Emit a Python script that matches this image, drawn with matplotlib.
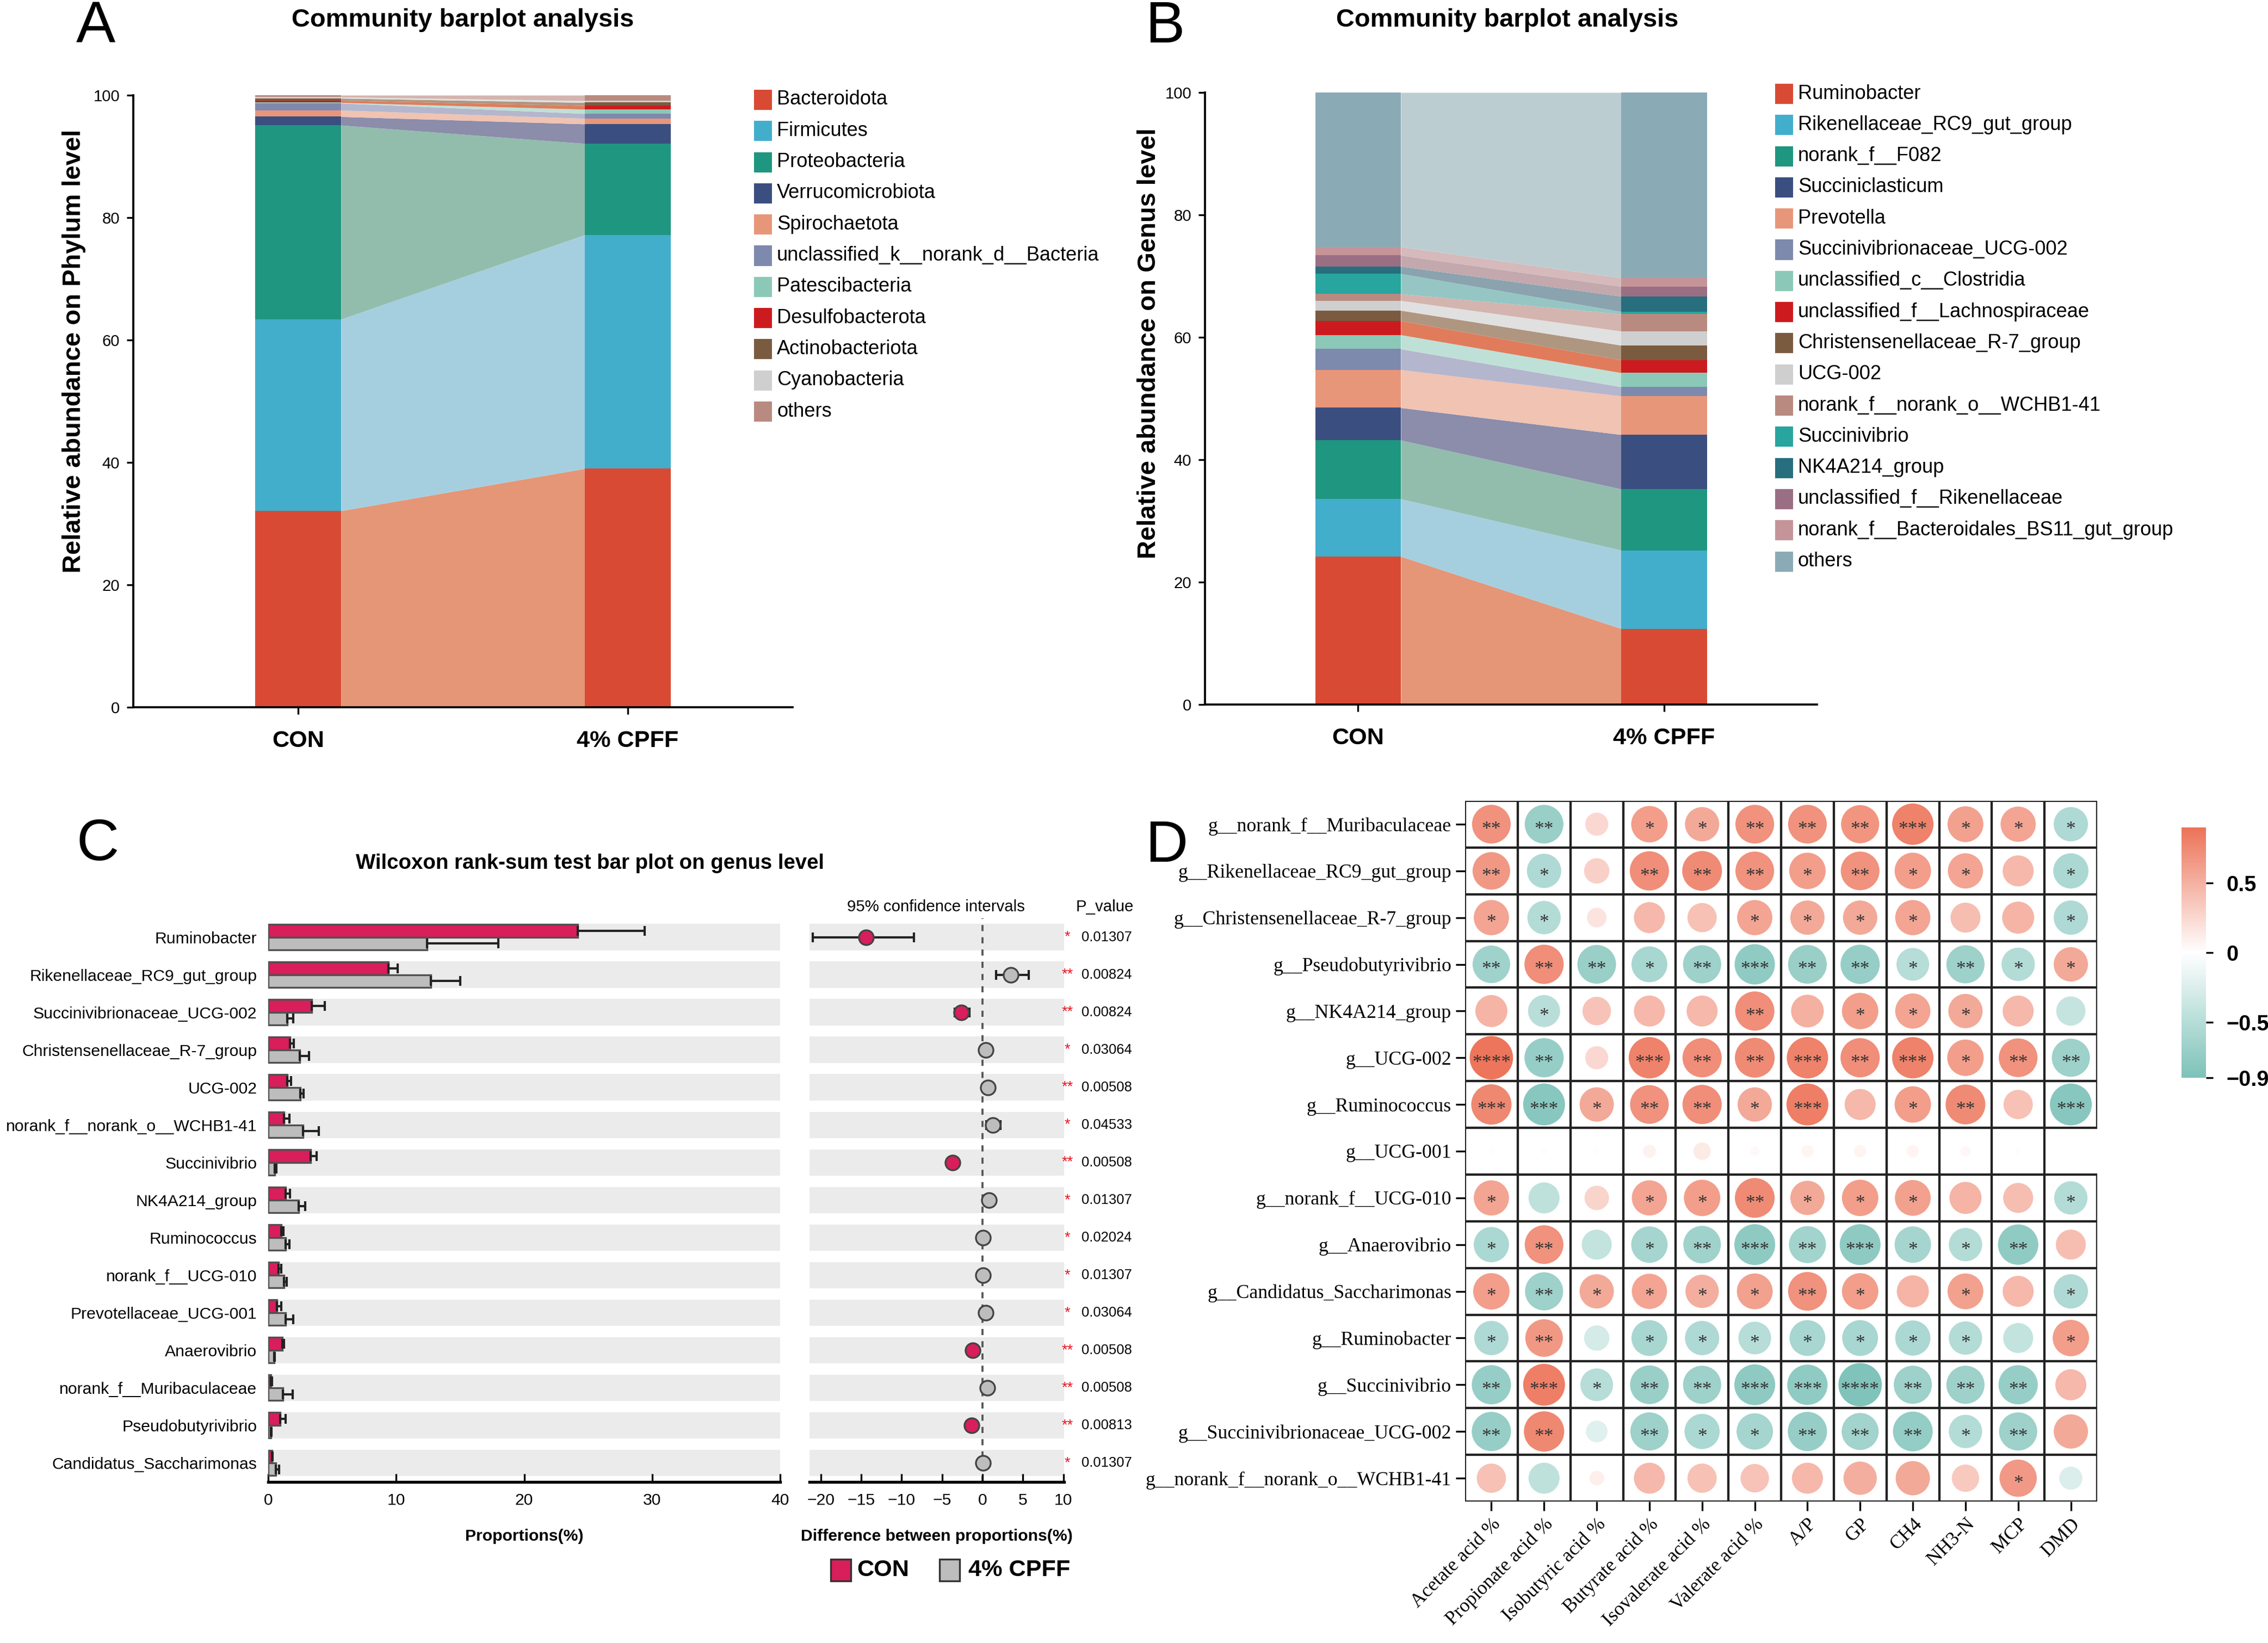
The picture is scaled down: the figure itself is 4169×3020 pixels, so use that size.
import numpy as np
import matplotlib
matplotlib.use("Agg")
import matplotlib.pyplot as plt
from matplotlib import font_manager as fm
from matplotlib.patches import Rectangle
from matplotlib.colors import LinearSegmentedColormap, Normalize
from matplotlib.cm import ScalarMappable

# ---------------- data ----------------
phylum_names = ["Bacteroidota", "Firmicutes", "Proteobacteria", "Verrucomicrobiota", "Spirochaetota",
                "unclassified_k__norank_d__Bacteria", "Patescibacteria", "Desulfobacterota",
                "Actinobacteriota", "Cyanobacteria", "others"]
phylum_con = [32.1, 31.3, 31.7, 1.4, 1.05, 1.15, 0.1, 0.35, 0.35, 0.2, 0.3]
phylum_cpff = [39.0, 38.2, 14.9, 3.2, 0.9, 0.8, 0.7, 0.6, 0.5, 0.3, 0.9]

genus_names = ["Ruminobacter", "Rikenellaceae_RC9_gut_group", "norank_f__F082", "Succiniclasticum",
               "Prevotella", "Succinivibrionaceae_UCG-002", "unclassified_c__Clostridia",
               "unclassified_f__Lachnospiraceae", "Christensenellaceae_R-7_group", "UCG-002",
               "norank_f__norank_o__WCHB1-41", "Succinivibrio", "NK4A214_group",
               "unclassified_f__Rikenellaceae", "norank_f__Bacteroidales_BS11_gut_group", "others"]
genus_con = [24.2, 9.4, 9.6, 5.3, 6.2, 3.4, 2.3, 2.3, 1.7, 1.6, 1.1, 3.3, 1.2, 1.8, 1.4, 25.2]
genus_cpff = [12.4, 12.8, 10.0, 8.9, 6.3, 1.5, 2.3, 2.1, 2.4, 2.3, 2.8, 0.4, 2.5, 1.6, 1.4, 30.3]
groups = ["CON", "4% CPFF"]

# bar colours and the colours of the connecting bands (shared palette order)
bar_colors = ["#D84A33", "#42AECB", "#1F9680", "#3A4F80", "#E8967A", "#7E89AE", "#8BC8B8",
              "#CC1B1E", "#7B5B40", "#CFCFCF", "#B98A80", "#27A59E", "#276E7E", "#9A6E83",
              "#C59498", "#8AABB5"]
band_colors = ["#E49677", "#A5CFDF", "#92BDAD", "#8C8CAB", "#F0C3B2", "#B4B6CD", "#BFE0D7",
               "#E07C5B", "#AF9680", "#E0E0E0", "#D4B4AE", "#95C6C4", "#8AA3AE", "#C3A8AE",
               "#D6B9BB", "#BCCDD1"]

c_genera = ["Ruminobacter", "Rikenellaceae_RC9_gut_group", "Succinivibrionaceae_UCG-002",
            "Christensenellaceae_R-7_group", "UCG-002", "norank_f__norank_o__WCHB1-41", "Succinivibrio",
            "NK4A214_group", "Ruminococcus", "norank_f__UCG-010", "Prevotellaceae_UCG-001",
            "Anaerovibrio", "norank_f__Muribaculaceae", "Pseudobutyrivibrio", "Candidatus_Saccharimonas"]
c_con = [24.2, 9.4, 3.4, 1.7, 1.5, 1.25, 3.3, 1.35, 1.0, 0.8, 0.7, 1.1, 0.2, 0.95, 0.3]
c_con_sd = [5.2, 0.7, 1.0, 0.3, 0.3, 0.4, 0.5, 0.35, 0.2, 0.2, 0.3, 0.15, 0.1, 0.4, 0.05]
c_cpff = [12.4, 12.7, 1.5, 2.45, 2.5, 2.7, 0.5, 2.4, 1.35, 1.25, 1.35, 0.45, 1.15, 0.2, 0.6]
c_cpff_sd = [5.6, 2.3, 0.45, 0.75, 0.25, 1.25, 0.15, 0.5, 0.3, 0.2, 0.6, 0.05, 0.75, 0.05, 0.25]
c_diff = [-14.4, 3.5, -2.6, 0.4, 0.7, 1.3, -3.7, 0.8, 0.05, 0.05, 0.4, -1.2, 0.6, -1.35, 0.08]
c_ci_low = [-21.0, 1.7, -3.4, 0.1, 0.4, 0.45, -4.0, 0.5, -0.15, -0.15, 0.1, -1.4, 0.3, -1.6, -0.1]
c_ci_high = [-8.5, 5.7, -1.6, 0.7, 1.0, 2.2, -3.4, 1.1, 0.25, 0.25, 0.7, -1.0, 0.9, -1.1, 0.25]
c_pvalue = ["0.01307", "0.00824", "0.00824", "0.03064", "0.00508", "0.04533", "0.00508", "0.01307",
            "0.02024", "0.01307", "0.03064", "0.00508", "0.00508", "0.00813", "0.01307"]

corr_rows = ["g__norank_f__Muribaculaceae", "g__Rikenellaceae_RC9_gut_group",
             "g__Christensenellaceae_R-7_group", "g__Pseudobutyrivibrio", "g__NK4A214_group",
             "g__UCG-002", "g__Ruminococcus", "g__UCG-001", "g__norank_f__UCG-010", "g__Anaerovibrio",
             "g__Candidatus_Saccharimonas", "g__Ruminobacter", "g__Succinivibrio",
             "g__Succinivibrionaceae_UCG-002", "g__norank_f__norank_o__WCHB1-41"]
corr_cols = ["Acetate acid %", "Propionate acid %", "Isobutyric acid %", "Butyrate acid %",
             "Isovalerate acid %", "Valerate acid %", "A/P", "GP", "CH4", "NH3-N", "MCP", "DMD"]
corr_r = [
    [0.70, -0.70, 0.25, 0.62, 0.55, 0.70, 0.70, 0.68, 0.80, 0.60, 0.58, -0.55],
    [0.66, -0.55, 0.30, 0.72, 0.74, 0.70, 0.62, 0.70, 0.62, 0.58, 0.45, -0.58],
    [0.58, -0.52, 0.18, 0.45, 0.40, 0.58, 0.55, 0.55, 0.58, 0.42, 0.48, -0.55],
    [-0.66, 0.72, -0.70, -0.60, -0.68, -0.76, -0.70, -0.72, -0.50, -0.68, -0.52, 0.55],
    [0.48, -0.48, 0.38, 0.45, 0.45, 0.72, 0.50, 0.62, 0.58, 0.55, 0.45, -0.40],
    [0.88, -0.72, 0.25, 0.80, 0.72, 0.74, 0.80, 0.72, 0.80, 0.62, 0.70, -0.68],
    [0.76, -0.82, 0.55, 0.70, 0.72, 0.55, 0.82, 0.45, 0.62, 0.74, 0.40, -0.82],
    [0.02, 0.02, 0.02, 0.08, 0.14, 0.04, 0.07, 0.07, 0.07, 0.05, 0.02, np.nan],
    [0.58, -0.45, 0.28, 0.58, 0.62, 0.74, 0.55, 0.62, 0.60, 0.48, 0.42, -0.52],
    [-0.58, 0.70, -0.42, -0.62, -0.66, -0.78, -0.64, -0.78, -0.62, -0.52, -0.76, 0.42],
    [0.62, -0.68, 0.55, 0.58, 0.52, 0.60, 0.70, 0.62, 0.48, 0.60, 0.45, -0.55],
    [-0.55, 0.66, -0.30, -0.60, -0.55, -0.50, -0.60, -0.60, -0.58, -0.52, -0.42, 0.62],
    [-0.72, 0.82, -0.50, -0.70, -0.68, -0.78, -0.76, -0.88, -0.68, -0.68, -0.72, 0.45],
    [-0.72, 0.76, -0.22, -0.68, -0.58, -0.62, -0.72, -0.64, -0.74, -0.52, -0.68, 0.55],
    [0.40, -0.45, 0.10, 0.45, 0.40, 0.38, 0.45, 0.52, 0.55, 0.35, 0.65, -0.25],
]
corr_stars = [
    [2, 2, 0, 1, 1, 2, 2, 2, 3, 1, 1, 1],
    [2, 1, 0, 2, 2, 2, 1, 2, 1, 1, 0, 1],
    [1, 1, 0, 0, 0, 1, 1, 1, 1, 0, 0, 1],
    [2, 2, 2, 1, 2, 3, 2, 2, 1, 2, 1, 1],
    [0, 1, 0, 0, 0, 2, 0, 1, 1, 1, 0, 0],
    [4, 2, 0, 3, 2, 2, 3, 2, 3, 1, 2, 2],
    [3, 3, 1, 2, 2, 1, 3, 0, 1, 2, 0, 3],
    [0, 0, 0, 0, 0, 0, 0, 0, 0, 0, 0, 0],
    [1, 0, 0, 1, 1, 2, 1, 1, 1, 0, 0, 1],
    [1, 2, 0, 1, 2, 3, 2, 3, 1, 1, 2, 0],
    [1, 2, 1, 1, 1, 1, 2, 1, 0, 1, 0, 1],
    [1, 2, 0, 1, 1, 1, 1, 1, 1, 1, 0, 1],
    [2, 3, 1, 2, 2, 3, 3, 4, 2, 2, 2, 0],
    [2, 2, 0, 2, 1, 1, 2, 2, 2, 1, 2, 0],
    [0, 0, 0, 0, 0, 0, 0, 0, 0, 0, 1, 0],
]
cbar_ticks = [0.5, 0, -0.5, -0.9]

# ---------------- setup ----------------
W, H, DPI = 4169, 3020, 300
avail = {f.name for f in fm.fontManager.ttflist}
NARROW = "Liberation Sans Narrow" in avail
SANS = "Liberation Sans" if "Liberation Sans" in avail else "DejaVu Sans"
SANS_N = "Liberation Sans Narrow" if NARROW else SANS
K = 1.0 if NARROW else 0.83
SERIF = "Liberation Serif" if "Liberation Serif" in avail else "DejaVu Serif"

plt.rcParams["font.family"] = [SANS, "DejaVu Sans"]
plt.rcParams["axes.unicode_minus"] = True

fig = plt.figure(figsize=(W / DPI, H / DPI), dpi=DPI)


def ax_px(l, t, r, b):
    return fig.add_axes([l / W, 1 - b / H, (r - l) / W, (b - t) / H])


def ftext(x, y, s, **kw):
    return fig.text(x / W, 1 - y / H, s, **kw)


def frect(x, y, w, h, color):
    fig.add_artist(Rectangle((x / W, 1 - (y + h) / H), w / W, h / H, transform=fig.transFigure,
                             facecolor=color, edgecolor="none"))


# ---------------- panels A and B ----------------
def community(ax, names, con, cpff, bw, ylab, lab_xy, leg_x, leg_y0, leg_dy):
    cc = np.concatenate([[0], np.cumsum(con)])
    cp = np.concatenate([[0], np.cumsum(cpff)])
    cc = cc / cc[-1] * 100
    cp = cp / cp[-1] * 100
    for i in range(len(names)):
        ax.bar(0, cc[i + 1] - cc[i], bottom=cc[i], width=bw, color=bar_colors[i], lw=0, zorder=2)
        ax.bar(1, cp[i + 1] - cp[i], bottom=cp[i], width=bw, color=bar_colors[i], lw=0, zorder=2)
        ax.fill_between([bw / 2, 1 - bw / 2], [cc[i], cp[i]], [cc[i + 1], cp[i + 1]],
                        color=band_colors[i], lw=0, zorder=1)
    ax.set_xlim(-0.5, 1.5)
    ax.set_ylim(0, 100)
    for s in ["top", "right"]:
        ax.spines[s].set_visible(False)
    for s in ["left", "bottom"]:
        ax.spines[s].set_linewidth(0.9)
    ax.set_yticks([0, 20, 40, 60, 80, 100])
    ax.set_xticks([0, 1])
    ax.set_xticklabels(groups, fontsize=12.5 * K, fontweight="bold", family=SANS_N)
    ax.tick_params(axis="y", length=3, width=0.8, pad=3, labelsize=8.5 * K)
    for t in ax.get_yticklabels():
        t.set_family(SANS_N)
    ax.tick_params(axis="x", length=3, width=0.8, pad=7)
    ax.set_ylabel(ylab, fontsize=11.3, fontweight="bold", family=SANS)
    ax.yaxis.set_label_coords(*lab_xy)
    for i, n in enumerate(names):
        yc = leg_y0 + leg_dy * i
        frect(leg_x, yc - 18, 33, 37, bar_colors[i])
        ftext(leg_x + 42, yc, n, fontsize=10.5 * K, family=SANS_N, va="center", ha="left")


axA = ax_px(245, 175, 1457, 1300)
community(axA, phylum_names, phylum_con, phylum_cpff, 0.26,
          "Relative abundance on Phylum level", (-0.072, 0.582), 1386, 183, 57.3)
ftext(851, 37, "Community barplot analysis", fontsize=13.6 * K, fontweight="bold", family=SANS_N,
      ha="center", va="center")
ftext(140, 50, "A", fontsize=26, family=SANS, ha="left", va="center")

axB = ax_px(2215, 170, 3340, 1295)
community(axB, genus_names, genus_con, genus_cpff, 0.28,
          "Relative abundance on Genus level", (-0.072, 0.59), 3263, 172, 57.3)
ftext(2771, 37, "Community barplot analysis", fontsize=13.6 * K, fontweight="bold", family=SANS_N,
      ha="center", va="center")
ftext(2105, 50, "B", fontsize=26, family=SANS, ha="left", va="center")

# ---------------- panel C ----------------
CON_C = "#D81E5B"
GRAY_C = "#BDBDBD"
BAND = "#EBEBEB"
n = len(c_genera)
yy = np.arange(n)
top_px, bot_px = 1688, 2723.5

axC = ax_px(493, top_px, 1434, bot_px)
axC.set_xlim(0, 40)
axC.set_ylim(n - 0.5, -0.5)
for i in range(n):
    axC.add_patch(Rectangle((0, i - 0.35), 40, 0.7, facecolor=BAND, edgecolor="none", zorder=0))
axC.barh(yy - 0.17, c_con, height=0.34, color=CON_C, edgecolor="#505050", lw=0.8, zorder=2)
axC.barh(yy + 0.17, c_cpff, height=0.34, color=GRAY_C, edgecolor="#505050", lw=0.8, zorder=2)
axC.errorbar(c_con, yy - 0.17, xerr=[np.zeros(n), c_con_sd], fmt="none", ecolor="#222222",
             elinewidth=1.0, capsize=2.2, capthick=1.0, zorder=3)
axC.errorbar(c_cpff, yy + 0.17, xerr=[np.zeros(n), c_cpff_sd], fmt="none", ecolor="#222222",
             elinewidth=1.0, capsize=2.2, capthick=1.0, zorder=3)
for s in ["top", "right", "left"]:
    axC.spines[s].set_visible(False)
axC.spines["bottom"].set_linewidth(1.3)
axC.set_yticks(yy)
axC.set_yticklabels(c_genera, fontsize=8.7 * K, family=SANS_N)
axC.tick_params(axis="y", length=0, pad=5)
axC.set_xticks([0, 10, 20, 30, 40])
axC.tick_params(axis="x", direction="in", length=3.5, width=0.8, pad=5, labelsize=8.7 * K)
for t in axC.get_xticklabels():
    t.set_family(SANS_N)
axC.set_xlabel("Proportions(%)", fontsize=8.7 * K, fontweight="bold", family=SANS_N, labelpad=9)

axCd = ax_px(1488, top_px, 1956, bot_px)
axCd.set_xlim(-21.4, 10.1)
axCd.set_ylim(n - 0.5, -0.5)
for i in range(n):
    axCd.add_patch(Rectangle((-21.4, i - 0.35), 31.5, 0.7, facecolor=BAND, edgecolor="none", zorder=0))
axCd.axvline(0, color="#555555", lw=0.9, ls=(0, (3, 3)), zorder=1)
c_diff_a = np.array(c_diff)
axCd.errorbar(c_diff_a, yy, xerr=[c_diff_a - np.array(c_ci_low), np.array(c_ci_high) - c_diff_a],
              fmt="none", ecolor="#222222", elinewidth=1.0, capsize=2.2, capthick=1.0, zorder=2)
for i in range(n):
    col = CON_C if c_diff[i] < 0 else GRAY_C
    axCd.plot(c_diff[i], yy[i], "o", ms=6.5, mfc=col, mec="#444444", mew=0.8, zorder=3)
for s in ["top", "right", "left"]:
    axCd.spines[s].set_visible(False)
axCd.spines["bottom"].set_linewidth(1.3)
axCd.set_yticks([])
axCd.set_xticks([-20, -15, -10, -5, 0, 5, 10])
axCd.tick_params(axis="x", direction="in", length=3.5, width=0.8, pad=5, labelsize=8.7 * K)
for t in axCd.get_xticklabels():
    t.set_family(SANS_N)
axCd.set_xlabel("Difference between proportions(%)", fontsize=8.7 * K, fontweight="bold",
                family=SANS_N, labelpad=9)

row_px = (bot_px - top_px) / n
for i in range(n):
    yc = top_px + row_px * (i + 0.5)
    p = float(c_pvalue[i])
    star = "**" if p < 0.01 else ("*" if p < 0.05 else "")
    ftext(1962, yc, star, color="#E8141E", fontsize=6.5, ha="center", va="center", family=SANS)
    ftext(1988, yc, c_pvalue[i], fontsize=7.4 * K, family=SANS_N, ha="left", va="center")
ftext(2031, 1667, "P_value", fontsize=8.5 * K, family=SANS_N, ha="center", va="center")
ftext(1720, 1667, "95% confidence intervals", fontsize=8.5 * K, family=SANS_N, ha="center", va="center")
ftext(1085, 1587, "Wilcoxon rank-sum test bar plot on genus level", fontsize=11.1 * K,
      fontweight="bold", family=SANS_N, ha="center", va="center")
ftext(140, 1553, "C", fontsize=26, family=SANS, ha="left", va="center")

# legend C
for x0, col, lab in [(1527, CON_C, "CON"), (1727, GRAY_C, "4% CPFF")]:
    frect(x0, 2866, 37, 40, col)
    fig.add_artist(Rectangle((x0 / W, 1 - 2906 / H), 37 / W, 40 / H, transform=fig.transFigure,
                             facecolor="none", edgecolor="#333333", lw=0.8))
    ftext(x0 + (48 if lab == "CON" else 53), 2886, lab, fontsize=12.5 * K, fontweight="bold",
          family=SANS_N, ha="left", va="center")

# ---------------- panel D ----------------
cmap = LinearSegmentedColormap.from_list("cor", ["#7DC2B9", "#FFFFFF", "#EC7358"])
norm = Normalize(vmin=-0.9, vmax=0.9)
R = np.array(corr_r, dtype=float)
nr, nc = R.shape
axD = ax_px(2693, 1472, 3855, 2760)
axD.set_xlim(0, nc)
axD.set_ylim(nr, 0)
xs, ys, ss, cs = [], [], [], []
for i in range(nr):
    for j in range(nc):
        r = R[i, j]
        if np.isnan(r):
            continue
        axD.add_patch(Rectangle((j, i), 1, 1, fill=False, edgecolor="#222222", lw=1.0, zorder=1))
        xs.append(j + 0.5)
        ys.append(i + 0.5)
        d_pt = 85 * np.sqrt(abs(r)) * 72 / DPI
        ss.append(d_pt ** 2)
        cs.append(r)
        k = corr_stars[i][j]
        if k:
            axD.text(j + 0.5, i + 0.62, "*" * k, ha="center", va="center", fontsize=8.5,
                     family=SERIF, color="#333333", zorder=4)
axD.scatter(xs, ys, s=ss, c=cs, cmap=cmap, norm=norm, edgecolors="none", zorder=2)
for s in axD.spines.values():
    s.set_visible(False)
axD.set_yticks(np.arange(nr) + 0.5)
axD.set_yticklabels(corr_rows, fontsize=8.6, family=SERIF)
axD.set_xticks(np.arange(nc) + 0.5)
axD.set_xticklabels(corr_cols, fontsize=8.6, family=SERIF, rotation=45, ha="right",
                    rotation_mode="anchor")
axD.tick_params(axis="both", length=4, width=0.8, pad=2)
ftext(2105, 1556, "D", fontsize=26, family=SANS, ha="left", va="center")

cax = ax_px(4010, 1521, 4055, 1981)
cb = fig.colorbar(ScalarMappable(norm=norm, cmap=cmap), cax=cax, ticks=cbar_ticks)
cb.outline.set_visible(False)
cb.ax.set_yticklabels(["0.5", "0", "\u22120.5", "\u22120.9"])
cb.ax.tick_params(length=3, width=0.8, pad=6, labelsize=9.5)
for t in cb.ax.get_yticklabels():
    t.set_fontweight("bold")

fig.savefig("out.png", dpi=DPI)
